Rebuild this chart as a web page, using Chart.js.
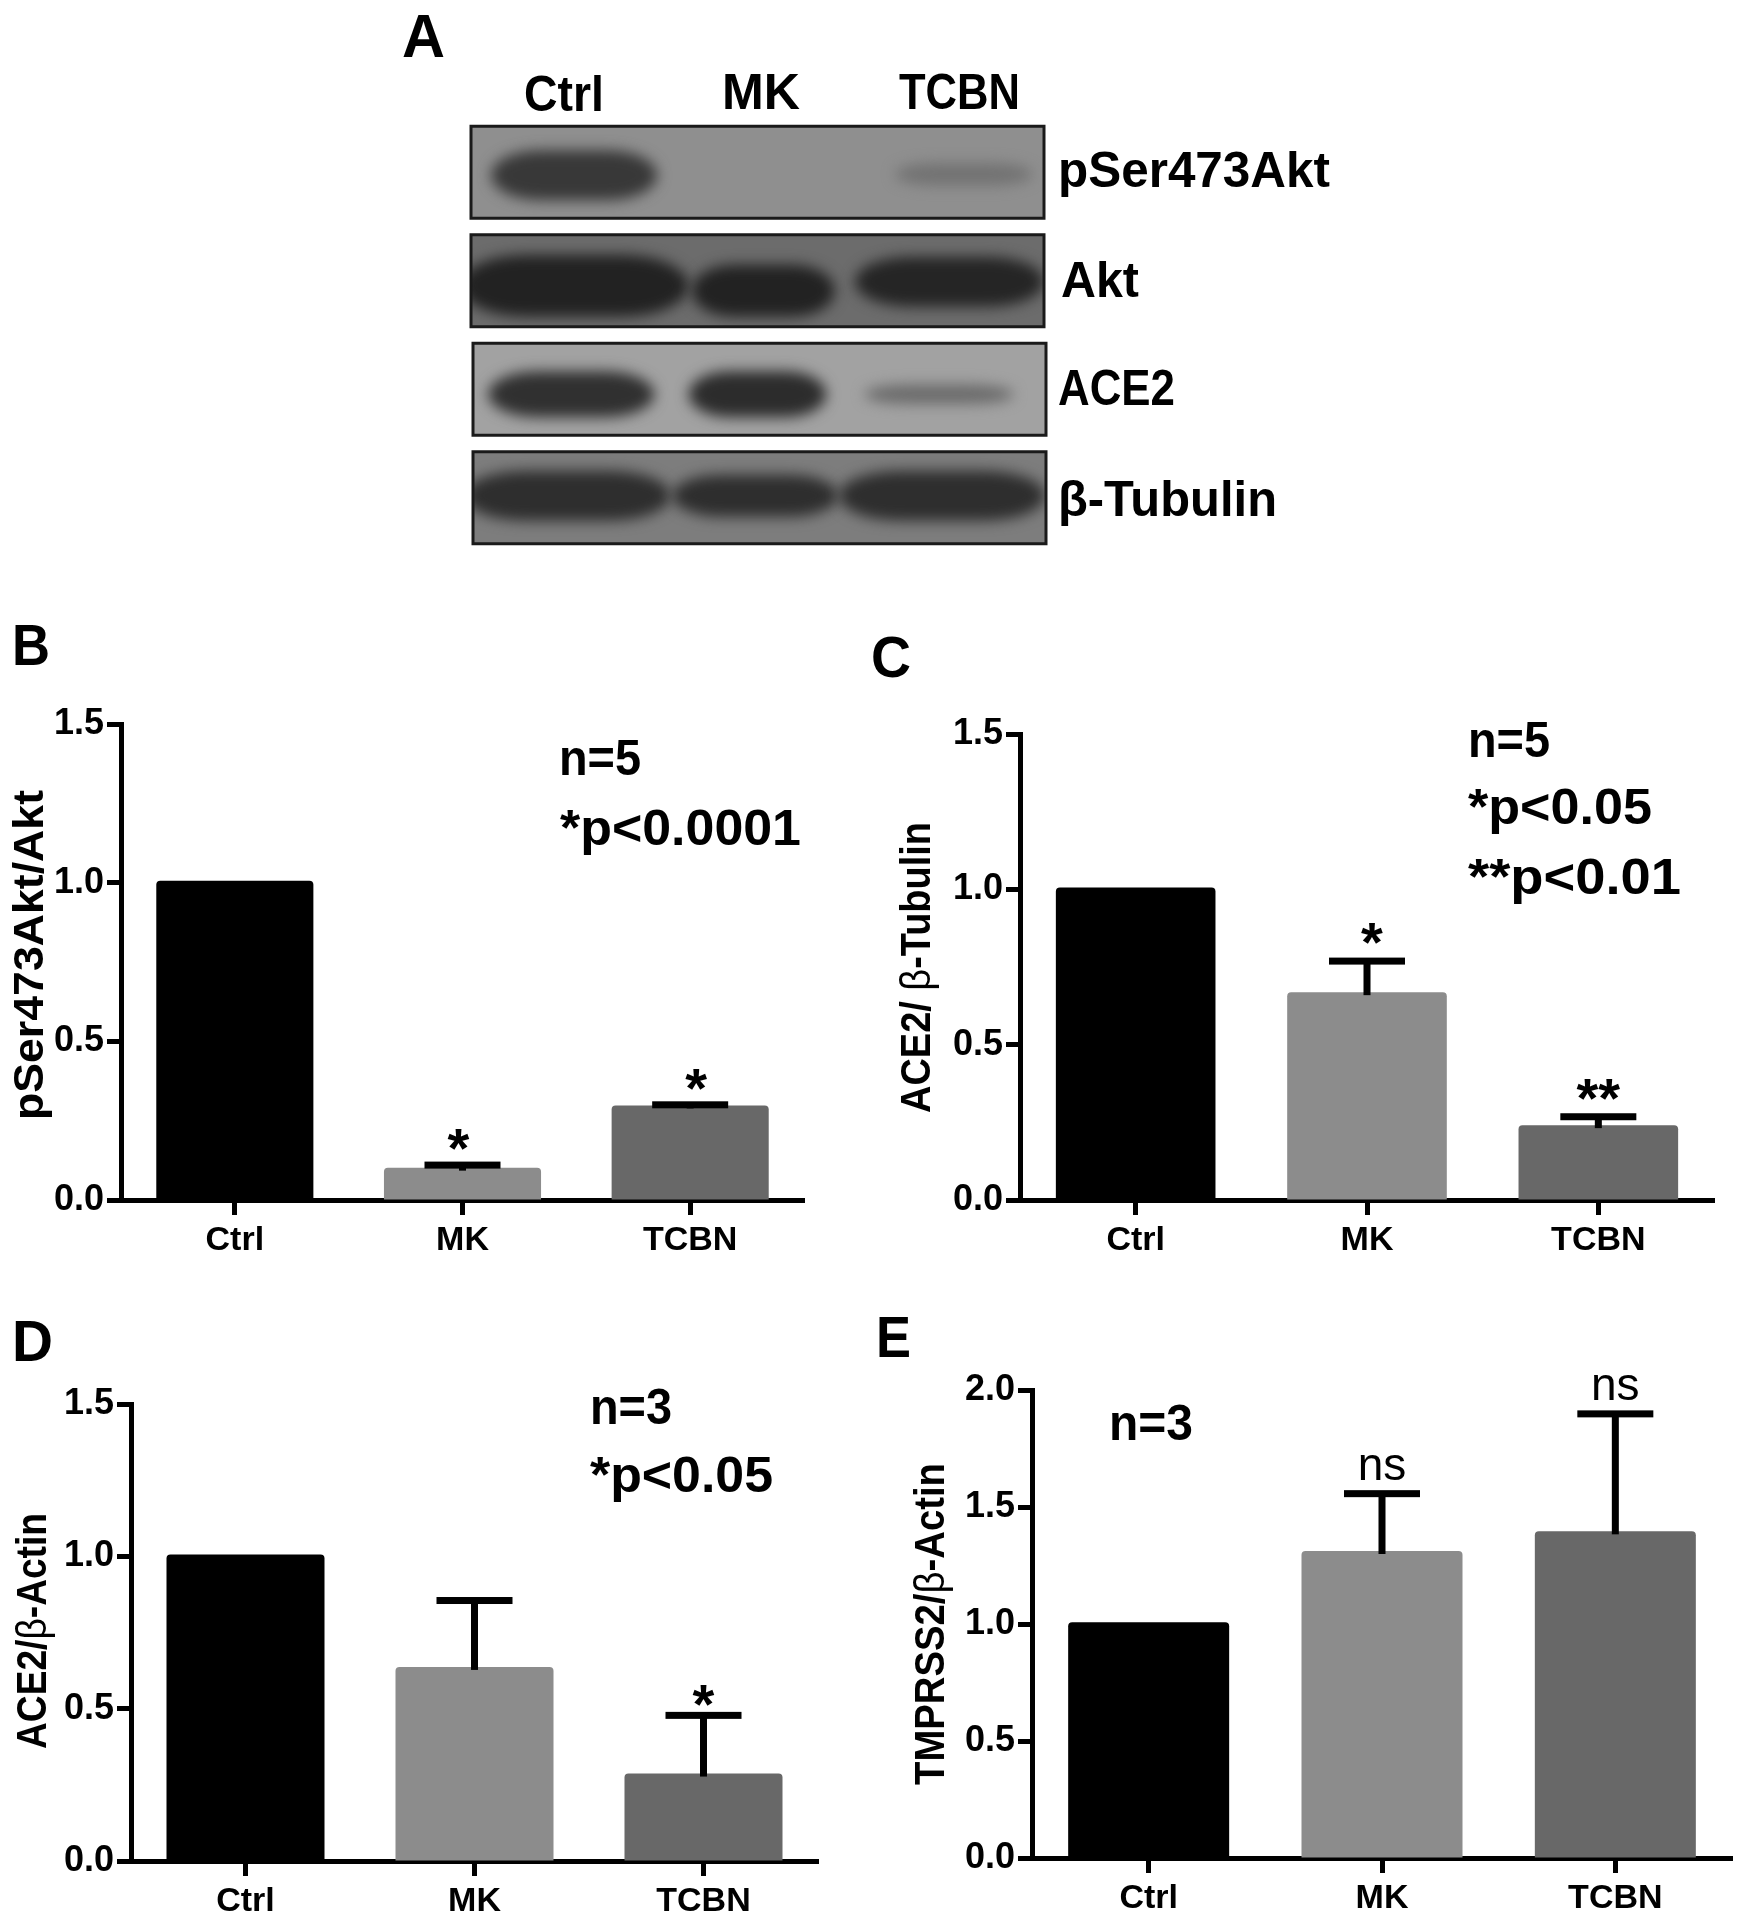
<!DOCTYPE html>
<html>
<head>
<meta charset="utf-8">
<title>Akt and ACE2 blots</title>
<script src="https://cdn.jsdelivr.net/npm/chart.js@4"></script>
<style>
  body { margin: 0; background: #fff; width: 1745px; height: 1920px; position: relative; overflow: hidden; }
  canvas { position: absolute; }
  .lbl { position: absolute; line-height: 0; white-space: nowrap; color: #000; transform-origin: 0 0;
         font-family: "Liberation Sans", Arial, sans-serif; font-weight: bold; }
  .thin { font-weight: normal; }
</style>
</head>
<body>
<canvas id="blotChart" style="left:440px;top:110px" width="640" height="450"></canvas>
<canvas id="chartB" style="left:0;top:690px" width="870" height="590"></canvas>
<canvas id="chartC" style="left:870px;top:700px" width="875" height="580"></canvas>
<canvas id="chartD" style="left:0;top:1370px" width="870" height="550"></canvas>
<canvas id="chartE" style="left:870px;top:1350px" width="875" height="570"></canvas>
<script>
// ========================
// DATA
// ========================
const categories = ["Ctrl", "MK", "TCBN"];

const aktValues = [1.006, 0.102, 0.298];
const aktErrors = [0, 0.008, 0.002];
const aktMarks = ["", "*", "*"];
const aktMarkShift = [0, -4, 6];

const tubulinValues = [1.006, 0.669, 0.241];
const tubulinErrors = [0, 0.1, 0.027];
const tubulinMarks = ["", "*", "**"];
const tubulinMarkShift = [0, 5, 0];

const actinValues = [1.006, 0.637, 0.287];
const actinErrors = [0, 0.218, 0.191];
const actinMarks = ["", "", "*"];
const actinMarkShift = [0, 0, 0];

const tmprssValues = [1.008, 1.312, 1.396];
const tmprssErrors = [0, 0.245, 0.502];
const tmprssMarks = ["", "ns", "ns"];
const tmprssMarkShift = [0, 0, 0];

const ticks15 = [0, 0.5, 1.0, 1.5];
const ticks20 = [0, 0.5, 1.0, 1.5, 2.0];

const barColors = ["#000000", "#8c8c8c", "#686868"];

// blot strips: one row per antibody, one entry per lane
const blotRows = ["pSer473Akt", "Akt", "ACE2", "β-Tubulin"];
const blotBackground = ["#8f8f8f", "#6c6c6c", "#a2a2a2", "#7d7d7d"];
const bandCentres = [[18, null, 86], [18, 51, 83.5], [17.5, 50, 81.7], [16.8, 49.6, 82.2]];
const bandWidths = [[29, 0, 24], [40, 25, 33], [29, 24, 26], [36, 29, 36]];
const bandHeights = [[50, 0, 22], [62, 52, 50], [46, 46, 19], [50, 42, 50]];
const bandShift = [[3, 0, 2], [5, 10, 1], [5, 5, 5], [-2, -2, -2]];
const bandGrey = [["#383838", null, "#727272"], ["#222", "#222", "#252525"], ["#303030", "#2c2c2c", "#6a6a6a"], ["#2e2e2e", "#2e2e2e", "#2e2e2e"]];

// ========================
// PLUGINS
// ========================
const errorBars = {
    id: "errorBars",
    afterDatasetsDraw(chart, args, opts) {
        const ctx = chart.ctx;
        const y = chart.scales.y;
        const x = chart.scales.x;
        ctx.save();
        ctx.fillStyle = "#000";
        opts.values.forEach((v, i) => {
            const px = x.getPixelForValue(i);
            const top = y.getPixelForValue(v + opts.errors[i]);
            if (opts.errors[i] > 0) {
                ctx.fillRect(px - 3.5, top, 7, y.getPixelForValue(v) - top + 3);
                ctx.fillRect(px - 38, top - 3.5, 76, 7);
            }
            if (opts.marks[i]) {
                const ns = opts.marks[i] === "ns";
                ctx.font = ns ? "46px 'Liberation Sans Narrow', 'Liberation Sans'" : "bold 56px 'Liberation Sans'";
                ctx.textAlign = "center";
                ctx.textBaseline = "alphabetic";
                ctx.fillText(opts.marks[i], px + opts.shift[i], top - (ns ? 14 : opts.gap));
            }
        });
        ctx.restore();
    }
};

const blotBands = {
    id: "blotBands",
    beforeDraw(chart) {
        const ctx = chart.ctx;
        const a = chart.chartArea;
        const x = chart.scales.x;
        const y = chart.scales.y;
        blotRows.forEach((row, r) => {
            const cy = y.getPixelForValue(r);
            const nudge = r > 1 ? 2 : 0;
            const left = a.left + nudge;
            ctx.save();
            ctx.beginPath();
            ctx.rect(left, cy - 46, a.width, 92);
            ctx.fillStyle = blotBackground[r];
            ctx.fill();
            ctx.clip();
            bandCentres[r].forEach((c, l) => {
                if (c === null) return;
                const w = bandWidths[r][l] * a.width / 100;
                const h = bandHeights[r][l];
                ctx.filter = "blur(7px)";
                ctx.fillStyle = bandGrey[r][l];
                ctx.beginPath();
                ctx.roundRect(x.getPixelForValue(c) - w / 2, cy + bandShift[r][l] - h / 2, w, h, { x: w * 0.3, y: h * 0.5 });
                ctx.fill();
                ctx.filter = "none";
            });
            ctx.restore();
            ctx.strokeStyle = "#1a1a1a";
            ctx.lineWidth = 3;
            ctx.strokeRect(left, cy - 46, a.width, 92);
        });
    }
};

// ========================
// CHARTS
// ========================
function drawBlot() {
    new Chart(document.getElementById("blotChart"), {
        type: "scatter",
        data: { datasets: [{ data: [] }] },
        plugins: [blotBands],
        options: {
            responsive: false,
            animation: false,
            layout: { padding: { left: 31, right: 36, top: 8, bottom: 8 } },
            plugins: { legend: { display: false }, tooltip: { enabled: false } },
            scales: {
                x: { type: "linear", min: 0, max: 100, display: false },
                y: { type: "category", labels: blotRows, offset: true, display: false }
            }
        }
    });
}

function drawBars(id, values, errors, marks, shift, tickList, yMax, box, gap) {
    new Chart(document.getElementById(id), {
        type: "bar",
        data: {
            labels: categories,
            datasets: [{
                data: values,
                backgroundColor: barColors,
                borderRadius: { topLeft: 4, topRight: 4 },
                borderSkipped: "bottom",
                barPercentage: 0.69,
                categoryPercentage: 1
            }]
        },
        plugins: [errorBars],
        options: {
            responsive: false,
            animation: false,
            layout: { padding: { left: 0, right: box.right, top: box.top, bottom: 0 } },
            plugins: {
                legend: { display: false },
                tooltip: { enabled: false },
                errorBars: { values, errors, marks, gap, shift }
            },
            scales: {
                x: {
                    afterFit: s => { s.height = box.bottom; },
                    grid: { offset: false, drawOnChartArea: false, drawTicks: true, tickLength: 15, tickWidth: 5, tickColor: "#000" },
                    border: { display: true, width: 5, color: "#000" },
                    ticks: { color: "#000", padding: 5, maxRotation: 0, font: { family: "Liberation Sans", size: 34, weight: "bold" } }
                },
                y: {
                    min: 0,
                    max: yMax,
                    afterFit: s => { s.width = box.left; },
                    afterBuildTicks: s => { s.ticks = tickList.map(v => ({ value: v })); },
                    grid: { drawOnChartArea: false, drawTicks: true, tickLength: 14, tickWidth: 5, tickColor: "#000" },
                    border: { display: true, width: 5, color: "#000" },
                    ticks: { color: "#000", padding: 3, callback: v => v.toFixed(1), font: { family: "Liberation Sans", size: 36, weight: "bold" } }
                }
            }
        }
    });
}

// ========================
// TEXT LABELS
// ========================
function addLabel(html, x, baseline, size, width, rotated) {
    const el = document.createElement("div");
    el.className = "lbl";
    el.innerHTML = html;
    el.style.fontSize = size + "px";
    el.style.left = (rotated ? x - 0.3465 * size : x) + "px";
    el.style.top = (rotated ? baseline : baseline - 0.3465 * size) + "px";
    document.body.appendChild(el);
    const fit = width / el.getBoundingClientRect().width;
    el.style.transform = (rotated ? "rotate(-90deg) " : "") + "scaleX(" + fit + ")";
}

function drawLabels() {
    addLabel("A", 402, 57, 62, 43);
    addLabel("B", 12, 665, 58, 38);
    addLabel("C", 871, 677, 58, 40);
    addLabel("D", 12, 1361, 58, 41);
    addLabel("E", 876, 1357, 58, 35);

    addLabel("Ctrl", 524, 111, 50, 80);
    addLabel("MK", 722, 109, 50, 78);
    addLabel("TCBN", 899, 109, 50, 121);
    addLabel("pSer473Akt", 1058, 187, 50, 272);
    addLabel("Akt", 1061, 297, 50, 78);
    addLabel("ACE2", 1058, 405, 50, 117);
    addLabel("β-Tubulin", 1058, 516, 50, 219);

    addLabel("n=5", 559, 775, 50, 82);
    addLabel("*p&lt;0.0001", 560, 845, 50, 241);
    addLabel("n=5", 1468, 757, 50, 82);
    addLabel("*p&lt;0.05", 1468, 824, 50, 184);
    addLabel("**p&lt;0.01", 1468, 894, 50, 213);
    addLabel("n=3", 590, 1424, 50, 82);
    addLabel("*p&lt;0.05", 590, 1492, 50, 183);
    addLabel("n=3", 1109, 1440, 50, 84);

    addLabel("pSer473Akt/Akt", 44, 1120, 42, 330, true);
    addLabel('ACE2/ <span class="thin">β</span>-Tubulin', 931, 1113, 42, 291, true);
    addLabel('ACE2/<span class="thin">β</span>-Actin', 47, 1749, 42, 236, true);
    addLabel('TMPRSS2/<span class="thin">β</span>-Actin', 945, 1785, 42, 322, true);
}

// ========================
// INIT
// ========================
drawBlot();
drawBars("chartB", aktValues, aktErrors, aktMarks, aktMarkShift, ticks15, 1.5, { left: 121, right: 66, top: 34, bottom: 80 }, -2);
drawBars("chartC", tubulinValues, tubulinErrors, tubulinMarks, tubulinMarkShift, ticks15, 1.5, { left: 150, right: 31, top: 34, bottom: 80 }, 0);
drawBars("chartD", actinValues, actinErrors, actinMarks, actinMarkShift, ticks15, 1.5, { left: 131, right: 52, top: 34, bottom: 59 }, -8);
drawBars("chartE", tmprssValues, tmprssErrors, tmprssMarks, tmprssMarkShift, ticks20, 2.0, { left: 162, right: 13, top: 40, bottom: 62 }, 8);
drawLabels();
</script>
</body>
</html>
